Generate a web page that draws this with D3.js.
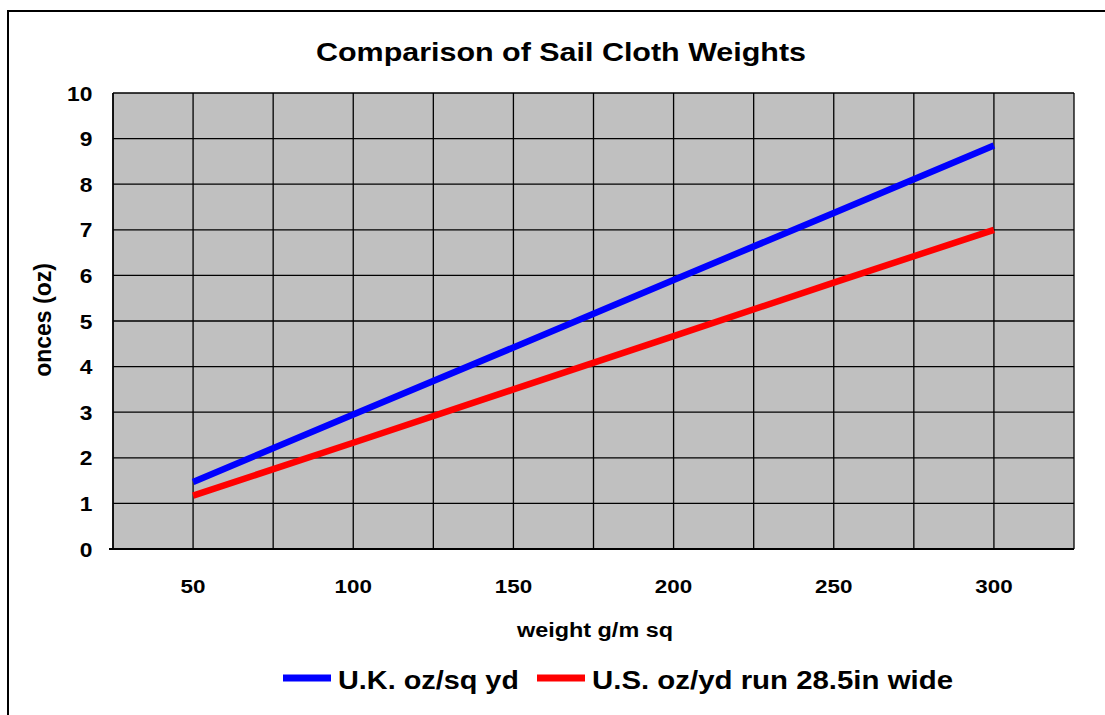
<!DOCTYPE html>
<html><head><meta charset="utf-8">
<script src="https://cdn.jsdelivr.net/npm/d3@7"></script>
<style>
body{margin:0;background:#fff;}
text{font-family:"Liberation Sans",Arial,sans-serif;font-weight:bold;fill:#000;}
</style></head>
<body><svg id="c" width="1105" height="715"></svg>
<script>
const title = "Comparison of Sail Cloth Weights";
const xTitle = "weight g/m sq";
const yTitle = "onces (oz)";
const weights = [50, 100, 150, 200, 250, 300];
const ukValues = [1.47, 2.95, 4.42, 5.90, 7.37, 8.85];
const usValues = [1.17, 2.33, 3.50, 4.67, 5.84, 7.00];
const xTickLabels = [50, 100, 150, 200, 250, 300];
const xGrid = [25, 50, 75, 100, 125, 150, 175, 200, 225, 250, 275, 300, 325];
const yTicks = [0,1,2,3,4,5,6,7,8,9,10];
const seriesNames = ["U.K. oz/sq yd", "U.S. oz/yd run 28.5in wide"];
const seriesColors = ["#0000ff", "#ff0000"];

const svg = d3.select("#c");
function stretch(sel, s){
  sel.each(function(){
    const n = this.getComputedTextLength();
    d3.select(this).attr("textLength", n*s).attr("lengthAdjust","spacingAndGlyphs");
  });
  return sel;
}
function fitTo(sel, w){
  sel.attr("textLength", w).attr("lengthAdjust","spacingAndGlyphs");
  return sel;
}
// outer frame
svg.append("rect").attr("x",8).attr("y",11).attr("width",1105).attr("height",720)
  .attr("fill","#fff").attr("stroke","#000").attr("stroke-width",2);

const L=113, R=1074, T=93, B=549;
const x = d3.scaleLinear().domain([25,325]).range([L,R]);
const y = d3.scaleLinear().domain([0,10]).range([B,T]);

svg.append("rect").attr("x",L).attr("y",T).attr("width",R-L).attr("height",B-T).attr("fill","#c0c0c0");

const g = svg.append("g");
g.selectAll("line.h").data(yTicks).join("line")
  .attr("x1",L).attr("x2",R).attr("y1",d=>y(d)).attr("y2",d=>y(d))
  .attr("stroke","#000").attr("stroke-width",1.3);
g.selectAll("line.v").data(xGrid).join("line")
  .attr("y1",T).attr("y2",B).attr("x1",d=>x(d)).attr("x2",d=>x(d))
  .attr("stroke","#000").attr("stroke-width",1.3);
svg.append("line").attr("x1",L-4).attr("x2",R).attr("y1",B).attr("y2",B).attr("stroke","#000").attr("stroke-width",2);
svg.append("line").attr("x1",L).attr("x2",L).attr("y1",T).attr("y2",B).attr("stroke","#000").attr("stroke-width",1.5);

// Y labels
stretch(svg.selectAll("text.yl").data(yTicks).join("text")
  .attr("x",92.5).attr("y",d=>y(d)+7.5).attr("text-anchor","end")
  .style("font-size","19.5px").text(d=>d), 1.17);
// X labels
stretch(svg.selectAll("text.xl").data(xTickLabels).join("text")
  .attr("x",d=>x(d)).attr("y",593).attr("text-anchor","middle")
  .style("font-size","19px").text(d=>d), 1.18);

fitTo(svg.append("text").attr("x",561).attr("y",61).attr("text-anchor","middle").style("font-size","26.5px").text(title), 490);
stretch(svg.append("text").attr("x",595).attr("y",637).attr("text-anchor","middle").style("font-size","19.5px").text(xTitle), 1.2);
svg.append("text").attr("transform","translate(51,320) rotate(-90)").attr("text-anchor","middle").style("font-size","23px").text(yTitle);

const line = d3.line().x(d=>x(d[0])).y(d=>y(d[1]));
[ukValues, usValues].forEach((vals,i)=>{
  svg.append("path").datum(weights.map((w,j)=>[w,vals[j]]))
    .attr("d",line).attr("fill","none").attr("stroke",seriesColors[i])
    .attr("stroke-width",6.5).attr("stroke-linecap","butt");
});

// legend
const legX = [283, 537];
const legW = [181, 361];
seriesNames.forEach((n,i)=>{
  svg.append("line").attr("x1",legX[i]).attr("x2",legX[i]+48).attr("y1",678).attr("y2",678)
    .attr("stroke",seriesColors[i]).attr("stroke-width",7);
  fitTo(svg.append("text").attr("x",legX[i]+55).attr("y",689).style("font-size","26.5px").text(n), legW[i]);
});
</script></body></html>
